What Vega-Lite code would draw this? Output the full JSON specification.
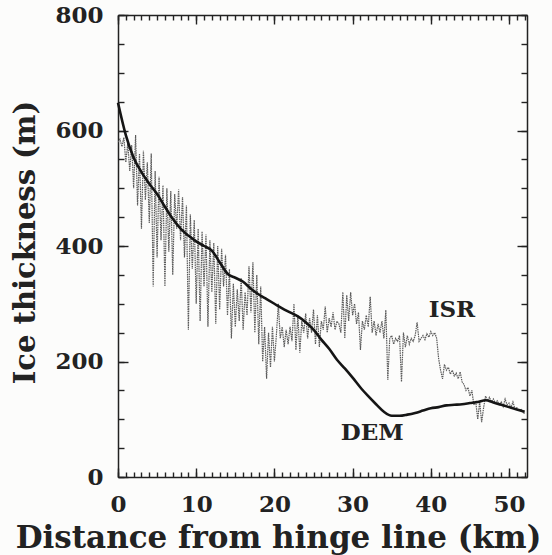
{
  "$schema": "https://vega.github.io/schema/vega-lite/v6.json",
  "width": 409,
  "height": 462,
  "autosize": {"type": "none"},
  "padding": {"left": 118, "top": 15, "right": 25, "bottom": 78},
  "background": "#fcfcfb",
  "config": {
    "view": {"stroke": null},
    "font": "DejaVu Serif",
    "axis": {
      "domainColor": "#222",
      "domainWidth": 1.5,
      "tickColor": "#222",
      "tickWidth": 1.4,
      "grid": false,
      "labelFont": "DejaVu Serif",
      "labelFontSize": 23,
      "labelFontWeight": "bold",
      "labelColor": "#222",
      "titleFont": "DejaVu Serif",
      "titleFontSize": 29,
      "titleFontWeight": "bold",
      "titleColor": "#222"
    }
  },
  "datasets": {
    "dem": [
      {"km": 0, "m": 648}, {"km": 1, "m": 592}, {"km": 2, "m": 553}, {"km": 3, "m": 528},
      {"km": 4, "m": 508}, {"km": 5, "m": 490}, {"km": 6, "m": 468}, {"km": 7, "m": 447},
      {"km": 8, "m": 430}, {"km": 9, "m": 418}, {"km": 10, "m": 408}, {"km": 11, "m": 400},
      {"km": 12, "m": 392}, {"km": 13, "m": 372}, {"km": 14, "m": 352}, {"km": 15, "m": 345},
      {"km": 16, "m": 338}, {"km": 17, "m": 326}, {"km": 18, "m": 316}, {"km": 19, "m": 308},
      {"km": 20, "m": 300}, {"km": 21, "m": 292}, {"km": 22, "m": 285}, {"km": 23, "m": 278},
      {"km": 24, "m": 268}, {"km": 25, "m": 255}, {"km": 26, "m": 238}, {"km": 27, "m": 222},
      {"km": 28, "m": 203}, {"km": 29, "m": 188}, {"km": 30, "m": 172}, {"km": 31, "m": 155},
      {"km": 32, "m": 140}, {"km": 33, "m": 126}, {"km": 34, "m": 113}, {"km": 35, "m": 106},
      {"km": 36, "m": 106}, {"km": 37, "m": 108}, {"km": 38, "m": 111}, {"km": 39, "m": 115},
      {"km": 40, "m": 119}, {"km": 41, "m": 121}, {"km": 42, "m": 124}, {"km": 43, "m": 125},
      {"km": 44, "m": 126}, {"km": 45, "m": 128}, {"km": 46, "m": 130}, {"km": 47, "m": 133},
      {"km": 48, "m": 129}, {"km": 49, "m": 125}, {"km": 50, "m": 121}, {"km": 51, "m": 117},
      {"km": 52, "m": 113}
    ],
    "isr": [
      {"km": 0.00, "m": 580}, {"km": 0.25, "m": 585}, {"km": 0.50, "m": 572}, {"km": 0.75, "m": 588},
      {"km": 1.00, "m": 545}, {"km": 1.25, "m": 578}, {"km": 1.50, "m": 530}, {"km": 1.75, "m": 575},
      {"km": 2.00, "m": 500}, {"km": 2.25, "m": 592}, {"km": 2.50, "m": 470}, {"km": 2.75, "m": 560},
      {"km": 3.00, "m": 430}, {"km": 3.25, "m": 565}, {"km": 3.50, "m": 480}, {"km": 3.75, "m": 545},
      {"km": 4.00, "m": 440}, {"km": 4.25, "m": 560}, {"km": 4.50, "m": 330}, {"km": 4.75, "m": 530},
      {"km": 5.00, "m": 380}, {"km": 5.25, "m": 520}, {"km": 5.50, "m": 410}, {"km": 5.75, "m": 505},
      {"km": 6.00, "m": 330}, {"km": 6.25, "m": 500}, {"km": 6.50, "m": 390}, {"km": 6.75, "m": 495},
      {"km": 7.00, "m": 350}, {"km": 7.25, "m": 490}, {"km": 7.50, "m": 430}, {"km": 7.75, "m": 498},
      {"km": 8.00, "m": 410}, {"km": 8.25, "m": 485}, {"km": 8.50, "m": 380}, {"km": 8.75, "m": 470},
      {"km": 9.00, "m": 255}, {"km": 9.25, "m": 455}, {"km": 9.50, "m": 360}, {"km": 9.75, "m": 445},
      {"km": 10.00, "m": 300}, {"km": 10.25, "m": 430}, {"km": 10.50, "m": 270}, {"km": 10.75, "m": 425},
      {"km": 11.00, "m": 330}, {"km": 11.25, "m": 420}, {"km": 11.50, "m": 260}, {"km": 11.75, "m": 410},
      {"km": 12.00, "m": 320}, {"km": 12.25, "m": 405}, {"km": 12.50, "m": 265}, {"km": 12.75, "m": 400},
      {"km": 13.00, "m": 290}, {"km": 13.25, "m": 395}, {"km": 13.50, "m": 330}, {"km": 13.75, "m": 385},
      {"km": 14.00, "m": 280}, {"km": 14.25, "m": 360}, {"km": 14.50, "m": 240}, {"km": 14.75, "m": 335},
      {"km": 15.00, "m": 260}, {"km": 15.25, "m": 325}, {"km": 15.50, "m": 270}, {"km": 15.75, "m": 345},
      {"km": 16.00, "m": 255}, {"km": 16.25, "m": 320}, {"km": 16.50, "m": 280}, {"km": 16.75, "m": 365},
      {"km": 17.00, "m": 285}, {"km": 17.25, "m": 372}, {"km": 17.50, "m": 250}, {"km": 17.75, "m": 350},
      {"km": 18.00, "m": 230}, {"km": 18.25, "m": 330}, {"km": 18.50, "m": 200}, {"km": 18.75, "m": 260},
      {"km": 19.00, "m": 170}, {"km": 19.25, "m": 250}, {"km": 19.50, "m": 190}, {"km": 19.75, "m": 260},
      {"km": 20.00, "m": 200}, {"km": 20.25, "m": 245}, {"km": 20.50, "m": 300}, {"km": 20.75, "m": 240},
      {"km": 21.00, "m": 260}, {"km": 21.25, "m": 225}, {"km": 21.50, "m": 255}, {"km": 21.75, "m": 230},
      {"km": 22.00, "m": 260}, {"km": 22.25, "m": 235}, {"km": 22.50, "m": 300}, {"km": 22.75, "m": 220},
      {"km": 23.00, "m": 280}, {"km": 23.25, "m": 215}, {"km": 23.50, "m": 270}, {"km": 23.75, "m": 250},
      {"km": 24.00, "m": 283}, {"km": 24.25, "m": 240}, {"km": 24.50, "m": 275}, {"km": 24.75, "m": 250},
      {"km": 25.00, "m": 290}, {"km": 25.25, "m": 230}, {"km": 25.50, "m": 280}, {"km": 25.75, "m": 225},
      {"km": 26.00, "m": 270}, {"km": 26.25, "m": 255}, {"km": 26.50, "m": 295}, {"km": 26.75, "m": 250},
      {"km": 27.00, "m": 275}, {"km": 27.25, "m": 260}, {"km": 27.50, "m": 285}, {"km": 27.75, "m": 255},
      {"km": 28.00, "m": 270}, {"km": 28.25, "m": 265}, {"km": 28.50, "m": 250}, {"km": 28.75, "m": 320},
      {"km": 29.00, "m": 240}, {"km": 29.25, "m": 315}, {"km": 29.50, "m": 270}, {"km": 29.75, "m": 320},
      {"km": 30.00, "m": 280}, {"km": 30.25, "m": 300}, {"km": 30.50, "m": 265}, {"km": 30.75, "m": 285},
      {"km": 31.00, "m": 220}, {"km": 31.25, "m": 270}, {"km": 31.50, "m": 255}, {"km": 31.75, "m": 280},
      {"km": 32.00, "m": 260}, {"km": 32.25, "m": 312}, {"km": 32.50, "m": 250}, {"km": 32.75, "m": 270},
      {"km": 33.00, "m": 245}, {"km": 33.25, "m": 265}, {"km": 33.50, "m": 250}, {"km": 33.75, "m": 270},
      {"km": 34.00, "m": 240}, {"km": 34.25, "m": 289}, {"km": 34.50, "m": 168}, {"km": 34.75, "m": 240},
      {"km": 35.00, "m": 245}, {"km": 35.25, "m": 230}, {"km": 35.50, "m": 240}, {"km": 35.75, "m": 235},
      {"km": 36.00, "m": 245}, {"km": 36.25, "m": 165}, {"km": 36.50, "m": 250}, {"km": 36.75, "m": 225},
      {"km": 37.00, "m": 245}, {"km": 37.25, "m": 230}, {"km": 37.50, "m": 240}, {"km": 37.75, "m": 235},
      {"km": 38.00, "m": 245}, {"km": 38.25, "m": 268}, {"km": 38.50, "m": 235}, {"km": 38.75, "m": 240},
      {"km": 39.00, "m": 245}, {"km": 39.25, "m": 238}, {"km": 39.50, "m": 248}, {"km": 39.75, "m": 242},
      {"km": 40.00, "m": 252}, {"km": 40.25, "m": 245}, {"km": 40.50, "m": 250}, {"km": 40.75, "m": 240},
      {"km": 41.00, "m": 205}, {"km": 41.25, "m": 185}, {"km": 41.50, "m": 170}, {"km": 41.75, "m": 195},
      {"km": 42.00, "m": 185}, {"km": 42.25, "m": 190}, {"km": 42.50, "m": 178}, {"km": 42.75, "m": 185},
      {"km": 43.00, "m": 175}, {"km": 43.25, "m": 180}, {"km": 43.50, "m": 170}, {"km": 43.75, "m": 182},
      {"km": 44.00, "m": 165}, {"km": 44.25, "m": 160}, {"km": 44.50, "m": 150}, {"km": 44.75, "m": 155},
      {"km": 45.00, "m": 140}, {"km": 45.25, "m": 150}, {"km": 45.50, "m": 125}, {"km": 45.75, "m": 130},
      {"km": 46.00, "m": 100}, {"km": 46.25, "m": 130}, {"km": 46.50, "m": 95}, {"km": 46.75, "m": 120},
      {"km": 47.00, "m": 140}, {"km": 47.25, "m": 132}, {"km": 47.50, "m": 138}, {"km": 47.75, "m": 130},
      {"km": 48.00, "m": 135}, {"km": 48.25, "m": 128}, {"km": 48.50, "m": 132}, {"km": 48.75, "m": 125},
      {"km": 49.00, "m": 130}, {"km": 49.25, "m": 122}, {"km": 49.50, "m": 135}, {"km": 49.75, "m": 125},
      {"km": 50.00, "m": 128}, {"km": 50.25, "m": 120}, {"km": 50.50, "m": 130}, {"km": 50.75, "m": 118},
      {"km": 51.00, "m": 120}, {"km": 51.25, "m": 115}, {"km": 51.50, "m": 118}, {"km": 51.75, "m": 112},
      {"km": 52.00, "m": 110}
    ]
  },
  "resolve": {"axis": {"x": "independent", "y": "independent"}},
  "layer": [
    {
      "data": {"name": "isr"},
      "mark": {"type": "line", "color": "#5a5a5a", "strokeWidth": 1.2, "strokeDash": [1.5, 0.8], "clip": true},
      "encoding": {
        "x": {
          "field": "km", "type": "quantitative",
          "scale": {"domain": [0, 52.3], "nice": false, "zero": false},
          "axis": {
            "orient": "bottom",
            "values": [0, 10, 20, 30, 40, 50],
            "tickSize": -9,
            "labelPadding": 25,
            "labelFlush": false,
            "labelOverlap": false,
            "title": "Distance from hinge line (km)",
            "titleFontSize": 31,
            "titleX": 160,
            "titleY": 70,
            "titleAnchor": "middle",
            "titleBaseline": "alphabetic"
          }
        },
        "y": {
          "field": "m", "type": "quantitative",
          "scale": {"domain": [0, 800], "nice": false},
          "axis": {
            "orient": "left",
            "values": [0, 200, 400, 600, 800],
            "tickSize": -10,
            "labelPadding": 25,
            "labelFlush": false,
            "labelOverlap": false,
            "title": "Ice thickness (m)",
            "titleAngle": -90,
            "titleX": -93,
            "titleY": 227,
            "titleAnchor": "middle",
            "titleBaseline": "middle"
          }
        }
      }
    },
    {
      "data": {"name": "dem"},
      "mark": {"type": "line", "color": "#151515", "strokeWidth": 2.6, "interpolate": "monotone"},
      "encoding": {
        "x": {
          "field": "km", "type": "quantitative",
          "scale": {"domain": [0, 52.3], "nice": false, "zero": false},
          "axis": {"orient": "top", "values": [0, 10, 20, 30, 40, 50], "labels": false, "tickSize": -9, "title": null}
        },
        "y": {
          "field": "m", "type": "quantitative",
          "scale": {"domain": [0, 800], "nice": false},
          "axis": {"orient": "right", "values": [0, 200, 400, 600, 800], "labels": false, "tickSize": -10, "title": null}
        }
      }
    },
    {
      "data": {"values": [{"km": 42.7, "m": 290, "name": "ISR"}]},
      "mark": {"type": "text", "font": "DejaVu Serif", "fontSize": 23, "fontWeight": "bold", "color": "#222", "align": "center", "baseline": "middle"},
      "encoding": {
        "x": {
          "field": "km", "type": "quantitative",
          "scale": {"domain": [0, 52.3], "nice": false, "zero": false},
          "axis": {"orient": "bottom", "values": [0,1,2,3,4,5,6,7,8,9,10,11,12,13,14,15,16,17,18,19,20,21,22,23,24,25,26,27,28,29,30,31,32,33,34,35,36,37,38,39,40,41,42,43,44,45,46,47,48,49,50,51,52], "labels": false, "tickSize": -5, "domain": false, "title": null}
        },
        "y": {
          "field": "m", "type": "quantitative",
          "scale": {"domain": [0, 800], "nice": false},
          "axis": {"orient": "left", "values": [0,50,100,150,200,250,300,350,400,450,500,550,600,650,700,750,800], "labels": false, "tickSize": -6, "domain": false, "title": null}
        },
        "text": {"field": "name"}
      }
    },
    {
      "data": {"values": [{"km": 32.5, "m": 76, "name": "DEM"}]},
      "mark": {"type": "text", "font": "DejaVu Serif", "fontSize": 23, "fontWeight": "bold", "color": "#222", "align": "center", "baseline": "middle"},
      "encoding": {
        "x": {
          "field": "km", "type": "quantitative",
          "scale": {"domain": [0, 52.3], "nice": false, "zero": false},
          "axis": {"orient": "top", "values": [0,1,2,3,4,5,6,7,8,9,10,11,12,13,14,15,16,17,18,19,20,21,22,23,24,25,26,27,28,29,30,31,32,33,34,35,36,37,38,39,40,41,42,43,44,45,46,47,48,49,50,51,52], "labels": false, "tickSize": -5, "domain": false, "title": null}
        },
        "y": {
          "field": "m", "type": "quantitative",
          "scale": {"domain": [0, 800], "nice": false},
          "axis": {"orient": "right", "values": [0,50,100,150,200,250,300,350,400,450,500,550,600,650,700,750,800], "labels": false, "tickSize": -6, "domain": false, "title": null}
        },
        "text": {"field": "name"}
      }
    }
  ]
}
